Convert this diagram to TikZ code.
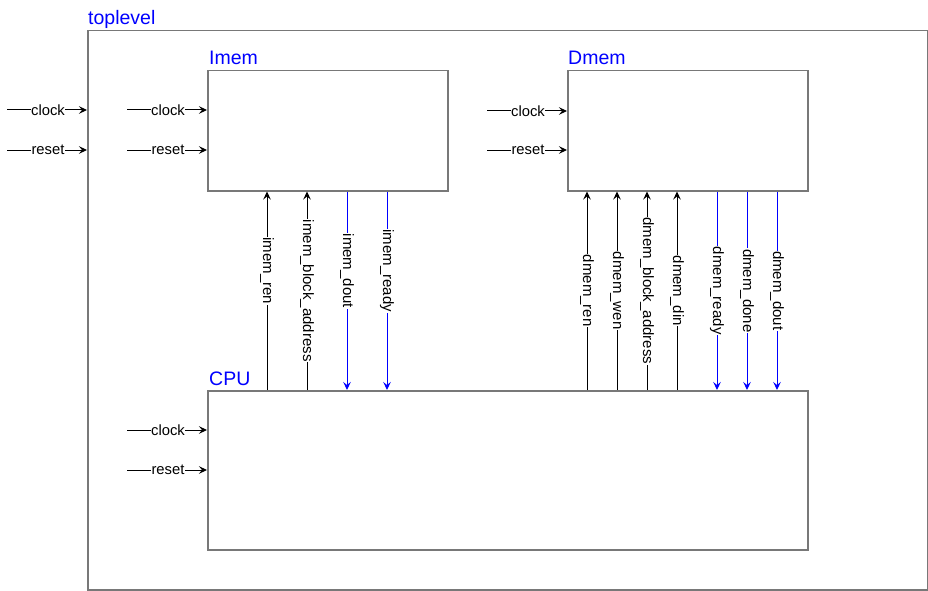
\documentclass[tikz,border=0pt]{standalone}
\usepackage{fontspec}
\setmainfont{Liberation Sans}
\usetikzlibrary{arrows.meta}
\definecolor{boxgray}{RGB}{120,120,120}
\definecolor{sigblue}{RGB}{0,0,255}
\tikzset{
  blk/.style={draw=boxgray, line width=1.5pt, anchor=north west, inner sep=0pt, fill=none},
  ttl/.style={anchor=base west, inner sep=0pt, text=sigblue, font=\fontsize{19.5}{20}\selectfont},
  sig/.style={draw=black, line width=1pt, -{Stealth[length=8pt,width=7.5pt,inset=3pt]}},
  bsig/.style={draw=sigblue, line width=1pt, -{Stealth[length=8pt,width=7.5pt,inset=3pt]}},
  hl/.style={fill=white, inner sep=0.6pt, font=\fontsize{14.8}{15}\selectfont},
  vl/.style={fill=white, inner sep=0.6pt, rotate=-90, font=\fontsize{15}{15}\selectfont}
}
\begin{document}
\begin{tikzpicture}[x=1pt,y=-1pt]
\useasboundingbox (0,0) rectangle (928,591);
% boxes
\node[blk, minimum width=840pt, minimum height=559pt] (top) at (87,30) {};
\node[blk, minimum width=240pt, minimum height=120pt] (imem) at (207,70) {};
\node[blk, minimum width=240pt, minimum height=120pt] (dmem) at (567,70) {};
\node[blk, minimum width=600pt, minimum height=159pt] (cpu) at (207,390) {};
% titles
\node[ttl] (ttop) at (88,25) {toplevel};
\node[ttl] (timem) at (209,65) {Imem};
\node[ttl] (tdmem) at (568,65) {Dmem};
\node[ttl] (tcpu) at (209,385) {CPU};
% free ends of inputs
\coordinate (c0) at (7,110);
\coordinate (r0) at (7,150);
\coordinate (c1) at (127,110);
\coordinate (r1) at (127,150);
\coordinate (c2) at (487,111);
\coordinate (r2) at (487,150);
\coordinate (c3) at (127,430);
\coordinate (r3) at (127,470);
\draw[sig] (c0) -- node[hl, xshift=1pt]{clock} (c0 -| top.west);
\draw[sig] (r0) -- node[hl, xshift=1pt]{reset} (r0 -| top.west);
\draw[sig] (c1) -- node[hl, xshift=1pt]{clock} (c1 -| imem.west);
\draw[sig] (r1) -- node[hl, xshift=1pt]{reset} (r1 -| imem.west);
\draw[sig] (c2) -- node[hl, xshift=1pt]{clock} (c2 -| dmem.west);
\draw[sig] (r2) -- node[hl, xshift=1pt]{reset} (r2 -| dmem.west);
\draw[sig] (c3) -- node[hl, xshift=1pt]{clock} (c3 -| cpu.west);
\draw[sig] (r3) -- node[hl, xshift=1pt]{reset} (r3 -| cpu.west);
% vertical signal x positions
\coordinate (x1) at (267,0);
\coordinate (x2) at (307,0);
\coordinate (x3) at (347,0);
\coordinate (x4) at (387,0);
\coordinate (y1) at (587,0);
\coordinate (y2) at (617,0);
\coordinate (y3) at (647,0);
\coordinate (y4) at (677,0);
\coordinate (y5) at (717,0);
\coordinate (y6) at (747,0);
\coordinate (y7) at (777,0);
% Imem <-> CPU
\draw[sig] (x1 |- cpu.north) -- node[vl, pos=0.6]{imem\_ren} (x1 |- imem.south);
\draw[sig] (x2 |- cpu.north) -- node[vl, pos=0.5]{imem\_block\_address} (x2 |- imem.south);
\draw[bsig] (x3 |- imem.south) -- node[vl, pos=0.4]{imem\_dout} (x3 |- cpu.north);
\draw[bsig] (x4 |- imem.south) -- node[vl, pos=0.4]{imem\_ready} (x4 |- cpu.north);
% Dmem <-> CPU
\draw[sig] (y1 |- cpu.north) -- node[vl, pos=0.5]{dmem\_ren} (y1 |- dmem.south);
\draw[sig] (y2 |- cpu.north) -- node[vl, pos=0.5]{dmem\_wen} (y2 |- dmem.south);
\draw[sig] (y3 |- cpu.north) -- node[vl, pos=0.5]{dmem\_block\_address} (y3 |- dmem.south);
\draw[sig] (y4 |- cpu.north) -- node[vl, pos=0.5]{dmem\_din} (y4 |- dmem.south);
\draw[bsig] (y5 |- dmem.south) -- node[vl, pos=0.5]{dmem\_ready} (y5 |- cpu.north);
\draw[bsig] (y6 |- dmem.south) -- node[vl, pos=0.5]{dmem\_done} (y6 |- cpu.north);
\draw[bsig] (y7 |- dmem.south) -- node[vl, pos=0.5]{dmem\_dout} (y7 |- cpu.north);
\end{tikzpicture}
\end{document}
